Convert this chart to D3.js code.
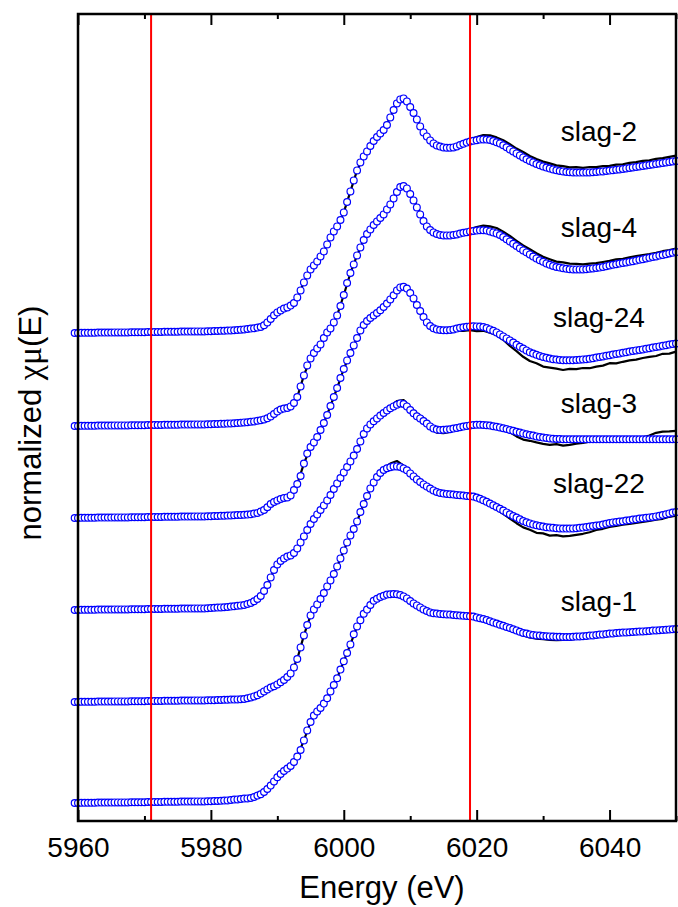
<!DOCTYPE html>
<html>
<head>
<meta charset="utf-8">
<script src="https://cdn.jsdelivr.net/npm/d3@7"></script>
<style>
body { margin: 0; background: #fff; }
svg { display: block; }
</style>
</head>
<body>
<svg id="chart" width="678" height="907"></svg>
<script>
const width = 678;
const height = 907;

// energy grids (eV): fit curves sampled every 0.5 eV, measured data every 1 eV
const fitStart = 5959.5, fitStep = 0.5;
const datStart = 5960, datStep = 1;

const samples = ["slag-2", "slag-4", "slag-24", "slag-3", "slag-22", "slag-1"];
// vertical stacking offset of each spectrum
const offsets = [2.35, 1.885, 1.425, 0.965, 0.505, 0];
// label baseline (in shifted units) and energy
const labelBase = [3.311, 2.832, 2.382, 1.949, 1.549, 0.962];
const labelE = 6038.4;

const majorTicks = [5960, 5980, 6000, 6020, 6040];
const minorTicks = [5970, 5990, 6010, 6030, 6050];
const tickLabels = ["5960", "5980", "6000", "6020", "6040"];
const markerE = [5971, 6019];

// ---- fitted spectra (blue circles), 5959.5 .. 6050 eV ----
const fitSlag2 = [0.000,
  0.000,0.001,0.001,0.001,0.001,0.001,0.002,0.002,0.002,0.002,
  0.002,0.003,0.003,0.003,0.003,0.003,0.004,0.004,0.004,0.004,
  0.004,0.005,0.005,0.005,0.005,0.005,0.006,0.006,0.006,0.006,
  0.006,0.007,0.007,0.007,0.007,0.008,0.008,0.008,0.008,0.009,
  0.009,0.010,0.010,0.011,0.011,0.012,0.013,0.014,0.015,0.016,
  0.018,0.020,0.022,0.024,0.027,0.030,0.039,0.053,0.070,0.089,
  0.103,0.113,0.122,0.128,0.137,0.150,0.178,0.213,0.253,0.288,
  0.318,0.338,0.358,0.383,0.408,0.443,0.478,0.508,0.533,0.565,
  0.603,0.655,0.708,0.763,0.813,0.853,0.883,0.908,0.935,0.960,
  0.980,0.998,1.015,1.040,1.078,1.115,1.148,1.168,1.173,1.158,
  1.130,1.100,1.068,1.033,1.003,0.983,0.963,0.948,0.938,0.932,
  0.928,0.926,0.926,0.928,0.933,0.940,0.946,0.952,0.957,0.961,
  0.964,0.967,0.968,0.967,0.965,0.960,0.954,0.948,0.939,0.929,
  0.918,0.908,0.898,0.888,0.878,0.869,0.860,0.853,0.845,0.839,
  0.833,0.827,0.822,0.818,0.814,0.810,0.808,0.805,0.804,0.803,
  0.802,0.802,0.802,0.803,0.803,0.804,0.805,0.807,0.808,0.810,
  0.812,0.814,0.816,0.818,0.820,0.823,0.825,0.828,0.830,0.833,
  0.835,0.838,0.840,0.843,0.845,0.848,0.850,0.853,0.855,0.858,
  0.860];
const fitSlag4 = [0.000,
  0.000,0.001,0.001,0.001,0.001,0.001,0.002,0.002,0.002,0.002,
  0.002,0.003,0.003,0.003,0.003,0.003,0.004,0.004,0.004,0.004,
  0.004,0.005,0.005,0.005,0.005,0.005,0.006,0.006,0.006,0.006,
  0.006,0.007,0.007,0.007,0.007,0.008,0.008,0.008,0.008,0.009,
  0.009,0.010,0.010,0.011,0.011,0.012,0.013,0.014,0.015,0.016,
  0.018,0.019,0.021,0.023,0.026,0.029,0.033,0.039,0.048,0.060,
  0.073,0.082,0.087,0.090,0.098,0.115,0.145,0.198,0.253,0.303,
  0.338,0.365,0.388,0.408,0.440,0.468,0.488,0.518,0.553,0.600,
  0.655,0.715,0.765,0.808,0.853,0.893,0.930,0.960,0.983,1.005,
  1.023,1.040,1.058,1.083,1.108,1.138,1.170,1.195,1.200,1.188,
  1.160,1.128,1.093,1.058,1.025,0.998,0.980,0.968,0.960,0.955,
  0.953,0.953,0.953,0.955,0.958,0.962,0.966,0.969,0.973,0.975,
  0.977,0.979,0.979,0.977,0.973,0.968,0.963,0.955,0.945,0.934,
  0.923,0.911,0.900,0.889,0.878,0.868,0.858,0.847,0.838,0.829,
  0.821,0.813,0.806,0.800,0.795,0.792,0.789,0.786,0.784,0.783,
  0.783,0.783,0.783,0.784,0.786,0.788,0.790,0.792,0.795,0.799,
  0.803,0.806,0.809,0.812,0.815,0.818,0.821,0.824,0.827,0.831,
  0.834,0.838,0.841,0.845,0.848,0.852,0.855,0.859,0.863,0.866,
  0.870];
const fitSlag24 = [0.000,
  0.000,0.001,0.001,0.001,0.001,0.001,0.002,0.002,0.002,0.002,
  0.002,0.003,0.003,0.003,0.003,0.003,0.004,0.004,0.004,0.004,
  0.004,0.005,0.005,0.005,0.005,0.005,0.006,0.006,0.006,0.006,
  0.006,0.007,0.007,0.007,0.007,0.008,0.008,0.008,0.008,0.009,
  0.009,0.010,0.010,0.011,0.011,0.012,0.013,0.014,0.015,0.015,
  0.016,0.017,0.019,0.022,0.025,0.032,0.040,0.054,0.070,0.080,
  0.088,0.095,0.100,0.103,0.113,0.140,0.170,0.210,0.272,0.322,
  0.355,0.378,0.405,0.440,0.475,0.515,0.560,0.605,0.650,0.700,
  0.745,0.788,0.825,0.863,0.900,0.938,0.965,0.985,1.000,1.013,
  1.025,1.039,1.055,1.072,1.093,1.114,1.138,1.153,1.156,1.147,
  1.125,1.098,1.065,1.035,1.005,0.978,0.960,0.949,0.943,0.940,
  0.939,0.939,0.940,0.943,0.947,0.951,0.954,0.956,0.958,0.959,
  0.958,0.957,0.955,0.950,0.943,0.936,0.928,0.918,0.908,0.898,
  0.888,0.877,0.866,0.856,0.847,0.838,0.829,0.822,0.816,0.810,
  0.805,0.801,0.797,0.794,0.792,0.790,0.789,0.789,0.789,0.789,
  0.790,0.791,0.793,0.794,0.796,0.799,0.802,0.805,0.808,0.811,
  0.814,0.817,0.820,0.823,0.826,0.829,0.832,0.835,0.838,0.840,
  0.843,0.846,0.849,0.852,0.855,0.858,0.861,0.864,0.867,0.870,
  0.872];
const fitSlag3 = [0.000,
  0.000,0.001,0.001,0.001,0.001,0.001,0.002,0.002,0.002,0.002,
  0.002,0.003,0.003,0.003,0.003,0.003,0.004,0.004,0.004,0.004,
  0.004,0.005,0.005,0.005,0.005,0.005,0.006,0.006,0.006,0.006,
  0.006,0.007,0.007,0.007,0.007,0.008,0.008,0.008,0.008,0.009,
  0.010,0.011,0.012,0.013,0.014,0.015,0.017,0.019,0.021,0.023,
  0.025,0.030,0.035,0.044,0.055,0.070,0.095,0.125,0.163,0.200,
  0.228,0.245,0.258,0.267,0.273,0.285,0.308,0.338,0.368,0.400,
  0.430,0.455,0.478,0.500,0.523,0.548,0.575,0.605,0.633,0.660,
  0.688,0.715,0.743,0.772,0.805,0.843,0.880,0.908,0.928,0.944,
  0.958,0.972,0.985,0.998,1.009,1.018,1.026,1.033,1.030,1.018,
  1.000,0.984,0.969,0.958,0.945,0.932,0.918,0.908,0.902,0.900,
  0.901,0.902,0.904,0.907,0.910,0.914,0.917,0.920,0.923,0.925,
  0.926,0.926,0.925,0.924,0.922,0.919,0.916,0.913,0.909,0.905,
  0.900,0.896,0.891,0.887,0.883,0.879,0.875,0.872,0.868,0.865,
  0.862,0.860,0.858,0.856,0.855,0.855,0.854,0.854,0.854,0.854,
  0.854,0.854,0.854,0.854,0.854,0.854,0.854,0.854,0.854,0.854,
  0.854,0.854,0.854,0.854,0.854,0.854,0.854,0.854,0.854,0.854,
  0.854,0.854,0.854,0.854,0.854,0.854,0.854,0.854,0.854,0.854,
  0.854];
const fitSlag22 = [0.000,
  0.000,0.001,0.001,0.001,0.001,0.001,0.002,0.002,0.002,0.002,
  0.002,0.003,0.003,0.003,0.003,0.003,0.004,0.004,0.004,0.004,
  0.004,0.005,0.005,0.005,0.005,0.005,0.006,0.006,0.006,0.006,
  0.006,0.007,0.007,0.007,0.007,0.008,0.008,0.008,0.008,0.009,
  0.009,0.009,0.010,0.010,0.011,0.011,0.012,0.012,0.013,0.014,
  0.015,0.019,0.023,0.028,0.034,0.043,0.053,0.063,0.072,0.079,
  0.088,0.099,0.110,0.125,0.143,0.173,0.215,0.273,0.333,0.385,
  0.433,0.463,0.488,0.515,0.545,0.578,0.608,0.640,0.678,0.718,
  0.758,0.798,0.833,0.865,0.903,0.950,0.990,1.030,1.068,1.098,
  1.125,1.145,1.160,1.169,1.174,1.178,1.178,1.175,1.168,1.159,
  1.143,1.128,1.113,1.100,1.088,1.078,1.067,1.058,1.050,1.045,
  1.042,1.040,1.039,1.037,1.035,1.034,1.032,1.030,1.029,1.027,
  1.022,1.016,1.009,1.001,0.992,0.984,0.975,0.966,0.957,0.948,
  0.939,0.930,0.922,0.914,0.905,0.899,0.893,0.888,0.884,0.880,
  0.877,0.874,0.872,0.871,0.869,0.868,0.867,0.867,0.867,0.868,
  0.869,0.871,0.872,0.875,0.877,0.880,0.882,0.884,0.887,0.891,
  0.895,0.898,0.900,0.902,0.904,0.907,0.909,0.912,0.914,0.917,
  0.919,0.921,0.923,0.925,0.928,0.931,0.935,0.939,0.943,0.947,
  0.950];
const fitSlag1 = [0.000,
  0.000,0.001,0.001,0.001,0.001,0.001,0.002,0.002,0.002,0.002,
  0.002,0.003,0.003,0.003,0.003,0.003,0.004,0.004,0.004,0.004,
  0.004,0.005,0.005,0.005,0.005,0.005,0.006,0.006,0.006,0.006,
  0.006,0.007,0.007,0.007,0.007,0.008,0.008,0.008,0.008,0.009,
  0.009,0.010,0.010,0.011,0.012,0.013,0.015,0.017,0.018,0.020,
  0.022,0.023,0.025,0.030,0.037,0.044,0.055,0.070,0.087,0.108,
  0.129,0.145,0.160,0.172,0.185,0.205,0.232,0.265,0.313,0.363,
  0.405,0.437,0.458,0.475,0.497,0.524,0.558,0.590,0.624,0.667,
  0.709,0.750,0.793,0.844,0.883,0.914,0.946,0.967,0.990,1.011,
  1.021,1.030,1.036,1.042,1.044,1.045,1.044,1.040,1.033,1.023,
  1.010,0.998,0.988,0.978,0.968,0.960,0.953,0.949,0.947,0.945,
  0.944,0.943,0.942,0.940,0.939,0.937,0.936,0.935,0.934,0.932,
  0.928,0.924,0.920,0.915,0.909,0.903,0.897,0.891,0.886,0.880,
  0.875,0.869,0.863,0.856,0.850,0.847,0.843,0.840,0.838,0.837,
  0.835,0.834,0.833,0.832,0.831,0.831,0.830,0.830,0.830,0.831,
  0.832,0.833,0.834,0.835,0.837,0.838,0.840,0.842,0.843,0.845,
  0.847,0.848,0.850,0.851,0.852,0.853,0.854,0.855,0.856,0.857,
  0.858,0.859,0.860,0.862,0.863,0.864,0.865,0.866,0.868,0.869,
  0.870];

// ---- measured spectra (black lines), 5960 .. 6050 eV ----
const datSlag2 = [
  0.000,0.001,0.001,0.002,0.002,0.002,0.003,0.003,0.004,0.004,
  0.004,0.005,0.005,0.006,0.006,0.006,0.007,0.007,0.008,0.008,
  0.009,0.010,0.011,0.013,0.015,0.018,0.022,0.027,0.039,0.072,
  0.110,0.128,0.138,0.178,0.253,0.318,0.358,0.408,0.478,0.533,
  0.603,0.708,0.813,0.883,0.935,0.980,1.015,1.078,1.150,1.175,
  1.132,1.070,1.005,0.965,0.940,0.930,0.928,0.936,0.946,0.967,
  0.980,0.990,0.988,0.978,0.964,0.944,0.922,0.905,0.885,0.870,
  0.857,0.848,0.838,0.834,0.828,0.829,0.826,0.830,0.829,0.834,
  0.836,0.842,0.843,0.851,0.854,0.861,0.863,0.871,0.874,0.881,
  0.887];
const datSlag4 = [
  0.000,0.001,0.001,0.002,0.002,0.002,0.003,0.003,0.004,0.004,
  0.004,0.005,0.005,0.006,0.006,0.006,0.007,0.007,0.008,0.008,
  0.009,0.010,0.011,0.013,0.015,0.018,0.021,0.026,0.036,0.058,
  0.088,0.100,0.105,0.145,0.253,0.338,0.388,0.440,0.488,0.553,
  0.655,0.765,0.853,0.930,0.983,1.023,1.058,1.110,1.178,1.205,
  1.165,1.100,1.032,0.985,0.962,0.955,0.956,0.962,0.972,0.985,
  0.995,1.002,0.998,0.990,0.972,0.950,0.926,0.903,0.884,0.864,
  0.846,0.834,0.822,0.818,0.812,0.811,0.808,0.812,0.814,0.820,
  0.826,0.833,0.836,0.843,0.849,0.855,0.860,0.866,0.874,0.880,
  0.887];
const datSlag24 = [
  0.000,0.001,0.001,0.002,0.002,0.002,0.003,0.003,0.004,0.004,
  0.004,0.005,0.005,0.006,0.006,0.006,0.007,0.007,0.008,0.008,
  0.009,0.010,0.011,0.013,0.015,0.016,0.019,0.025,0.042,0.076,
  0.098,0.110,0.118,0.170,0.272,0.355,0.405,0.475,0.560,0.650,
  0.745,0.825,0.900,0.965,1.000,1.025,1.055,1.093,1.140,1.152,
  1.120,1.060,1.000,0.955,0.936,0.932,0.933,0.935,0.936,0.939,
  0.934,0.936,0.926,0.915,0.891,0.860,0.834,0.806,0.785,0.774,
  0.757,0.752,0.747,0.740,0.746,0.744,0.750,0.749,0.757,0.762,
  0.774,0.773,0.781,0.788,0.792,0.800,0.806,0.810,0.821,0.822,
  0.832];
const datSlag3 = [
  0.000,0.001,0.001,0.002,0.002,0.002,0.003,0.003,0.004,0.004,
  0.004,0.005,0.005,0.006,0.006,0.006,0.007,0.007,0.008,0.008,
  0.010,0.012,0.014,0.017,0.021,0.025,0.035,0.055,0.095,0.163,
  0.232,0.266,0.282,0.312,0.368,0.430,0.478,0.523,0.575,0.633,
  0.688,0.743,0.805,0.880,0.930,0.962,0.990,1.018,1.045,1.050,
  1.015,0.982,0.962,0.912,0.887,0.884,0.890,0.903,0.915,0.921,
  0.926,0.924,0.920,0.912,0.902,0.888,0.868,0.852,0.846,0.838,
  0.831,0.826,0.829,0.822,0.826,0.832,0.836,0.842,0.850,0.853,
  0.856,0.853,0.857,0.855,0.858,0.864,0.872,0.886,0.892,0.893,
  0.896];
const datSlag22 = [
  0.000,0.001,0.001,0.002,0.002,0.002,0.003,0.003,0.004,0.004,
  0.004,0.005,0.005,0.006,0.006,0.006,0.007,0.007,0.008,0.008,
  0.009,0.010,0.011,0.012,0.013,0.015,0.023,0.034,0.053,0.072,
  0.088,0.110,0.143,0.215,0.333,0.433,0.488,0.545,0.608,0.678,
  0.758,0.833,0.903,0.990,1.068,1.128,1.170,1.192,1.205,1.182,
  1.150,1.128,1.095,1.078,1.052,1.036,1.031,1.025,1.022,1.019,
  1.017,1.004,0.984,0.962,0.941,0.917,0.894,0.873,0.861,0.846,
  0.843,0.832,0.834,0.828,0.831,0.836,0.841,0.849,0.860,0.866,
  0.875,0.880,0.887,0.890,0.896,0.901,0.905,0.912,0.916,0.926,
  0.932];
const datSlag1 = [
  0.000,0.001,0.001,0.002,0.002,0.002,0.003,0.003,0.004,0.004,
  0.004,0.005,0.005,0.006,0.006,0.006,0.007,0.007,0.008,0.008,
  0.009,0.010,0.011,0.013,0.015,0.022,0.025,0.037,0.055,0.087,
  0.129,0.160,0.185,0.232,0.313,0.405,0.458,0.497,0.558,0.624,
  0.709,0.793,0.883,0.946,0.990,1.021,1.036,1.044,1.044,1.033,
  1.010,0.988,0.968,0.953,0.947,0.944,0.942,0.939,0.936,0.934,
  0.928,0.920,0.909,0.897,0.886,0.872,0.856,0.838,0.828,0.822,
  0.819,0.816,0.814,0.815,0.816,0.822,0.828,0.835,0.839,0.843,
  0.846,0.850,0.852,0.853,0.856,0.858,0.859,0.863,0.865,0.867,
  0.870];

const fits = [fitSlag2, fitSlag4, fitSlag24, fitSlag3, fitSlag22, fitSlag1];
const dats = [datSlag2, datSlag4, datSlag24, datSlag3, datSlag22, datSlag1];

const font = "'Liberation Sans', Arial, Helvetica, sans-serif";

const svg = d3.select("#chart")
    .attr("viewBox", [0, 0, width, height]);

const x = d3.scaleLinear().domain([5960, 6050]).range([78, 676]);
const y = d3.scaleLinear().domain([-0.09, 3.945]).range([821, 14]);

// spectra: black measured line first, then the fit circles on top
samples.forEach(function(name, k) {
    const off = offsets[k];
    const g = svg.append("g").attr("class", "spectrum " + name);

    const line = d3.line()
        .x(function(d, i) { return x(datStart + i * datStep); })
        .y(function(d) { return y(d + off); });

    g.append("path")
        .datum(dats[k])
        .attr("d", line)
        .attr("fill", "none")
        .attr("stroke", "#000")
        .attr("stroke-width", 2.2)
        .attr("stroke-linejoin", "round");

    g.selectAll("circle")
        .data(fits[k])
        .enter().append("circle")
        .attr("cx", function(d, i) { return x(fitStart + i * fitStep); })
        .attr("cy", function(d) { return y(d + off); })
        .attr("r", 3.4)
        .attr("fill", "#fff")
        .attr("stroke", "#0000ff")
        .attr("stroke-width", 1.2);
});

// red marker lines
svg.append("g").selectAll("line")
    .data(markerE)
    .enter().append("line")
    .attr("x1", function(d) { return x(d); })
    .attr("x2", function(d) { return x(d); })
    .attr("y1", y.range()[0])
    .attr("y2", y.range()[1])
    .attr("stroke", "#ff0000")
    .attr("stroke-width", 2);

// sample labels
svg.append("g").selectAll("text")
    .data(samples)
    .enter().append("text")
    .attr("x", x(labelE))
    .attr("y", function(d, k) { return y(labelBase[k]); })
    .attr("text-anchor", "middle")
    .attr("font-family", font)
    .attr("font-size", 28)
    .attr("fill", "#000")
    .text(function(d) { return d; });

// frame
svg.append("rect")
    .attr("x", 78).attr("y", 14)
    .attr("width", 598).attr("height", 807)
    .attr("fill", "none")
    .attr("stroke", "#000")
    .attr("stroke-width", 2.5);

// ticks (all pointing inwards)
function styleAxis(sel) {
    sel.select(".domain").remove();
    sel.selectAll(".tick line").attr("stroke", "#000").attr("stroke-width", 2);
}
svg.append("g")
    .attr("transform", "translate(0,821)")
    .call(d3.axisBottom(x).tickValues(majorTicks).tickSizeInner(-11).tickSizeOuter(0)
        .tickPadding(16).tickFormat(function(d, i) { return tickLabels[i]; }))
    .call(styleAxis)
    .selectAll("text")
    .attr("font-family", font)
    .attr("font-size", 28)
    .attr("fill", "#000");
svg.append("g")
    .attr("transform", "translate(0,821)")
    .call(d3.axisBottom(x).tickValues(minorTicks).tickSizeInner(-5).tickSizeOuter(0).tickFormat(""))
    .call(styleAxis);
svg.append("g")
    .attr("transform", "translate(0,14)")
    .call(d3.axisTop(x).tickValues(majorTicks).tickSizeInner(-11).tickSizeOuter(0).tickFormat(""))
    .call(styleAxis);
svg.append("g")
    .attr("transform", "translate(0,14)")
    .call(d3.axisTop(x).tickValues(minorTicks).tickSizeInner(-5).tickSizeOuter(0).tickFormat(""))
    .call(styleAxis);

// axis titles
svg.append("text")
    .attr("x", 382).attr("y", 898)
    .attr("text-anchor", "middle")
    .attr("font-family", font)
    .attr("font-size", 31)
    .text("Energy (eV)");

const ylab = svg.append("text")
    .attr("transform", "translate(41,423) rotate(-90)")
    .attr("text-anchor", "middle")
    .attr("font-family", font)
    .attr("font-size", 31);
ylab.append("tspan").text("normalized ");
ylab.append("tspan").attr("font-family", "'Liberation Serif', 'Times New Roman', serif").attr("font-size", 34).text("χμ");
ylab.append("tspan").text("(E)");
</script>
</body>
</html>
